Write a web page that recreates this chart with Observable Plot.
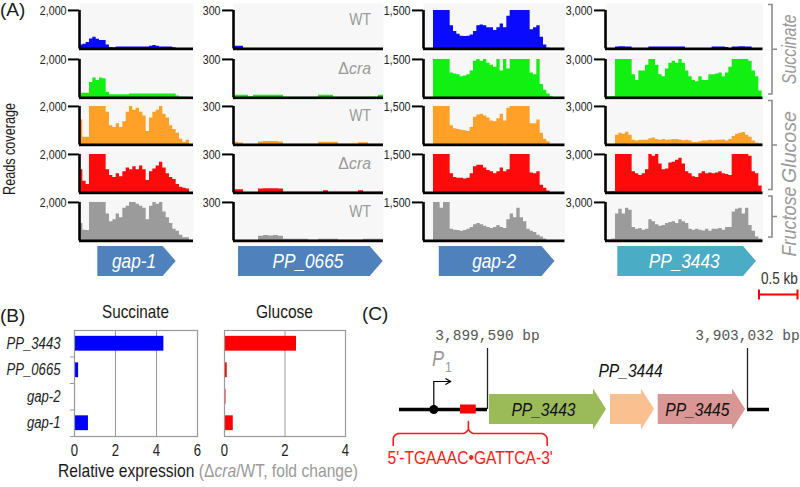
<!DOCTYPE html>
<html><head><meta charset="utf-8">
<script src="https://cdn.jsdelivr.net/npm/d3@7"></script>
<script src="https://cdn.jsdelivr.net/npm/@observablehq/plot@0.6"></script>
<style>
html,body{margin:0;padding:0;background:#fff;}
#root{position:relative;width:800px;height:487px;overflow:hidden;background:#fff;}
</style></head><body><div id="root"></div>
<script>
// ================= DATA =================
// Panel A: RNA-seq read coverage (reads), one value per bin
const genesA = ["gap-1", "PP_0665", "gap-2", "PP_3443"];
const yMaxA = [2000, 300, 1500, 3000];
const strainA = ["WT", "Δcra", "WT", "Δcra", "WT"];
const carbonA = ["Succinate", "Glucose", "Fructose"];
const carbonRowsA = [[0, 1], [2, 3], [4, 4]];

const gap1_SucWT  = [200,240,340,520,600,500,440,440,200,80,60,100,100,100,100,100,100,100,100,100,100,140,180,140,100,100,100,100,60,0,0,0,0];
const gap1_SucCra = [240,240,240,800,1040,900,1040,1000,300,160,160,160,160,160,160,200,200,200,200,200,200,200,200,200,200,200,200,200,200,100,40,40,40];
const gap1_GluWT  = [1300,400,400,2000,2000,2000,2000,2000,1700,1000,900,1100,900,1200,1700,2000,1800,1900,1700,1500,700,1400,1700,1800,2000,1600,1400,1000,800,600,300,140,240];
const gap1_GluCra = [1200,600,440,2000,2000,2000,2000,2000,1200,900,800,1000,840,1100,1300,1200,1360,1200,1400,1200,640,1100,1240,1400,1600,1300,1000,800,700,440,300,240,200];
const gap1_FruWT  = [900,560,540,2000,2000,2000,2000,2000,1400,1000,1100,1400,1200,1700,1800,2000,2000,1900,1800,1700,1100,1800,2000,1900,2000,1500,1200,900,600,500,300,160,160];

const pp0665_SucWT  = [20,20,0,0,0,0,0,0,0,0, 0,0,0,0,0,0,0,0,0,0, 0,0,0,0,0,0,0,0,0,0];
const pp0665_SucCra = [20,20,20,10,20,20,20,20,20,20, 5,5,5,5,5,5,5,20,20,20, 5,5,5,5,5,5,5,5,5,20];
const pp0665_GluWT  = [20,15,0,0,0,22,26,26,26,22, 5,5,5,5,5,5,5,20,20,20, 20,5,5,5,5,16,16,5,5,5];
const pp0665_GluCra = [24,24,0,0,0,30,32,32,32,30, 5,5,5,5,5,5,5,5,16,5, 5,5,5,5,5,16,5,5,5,5];
const pp0665_FruWT  = [0,0,0,0,0,36,42,38,42,36, 14,14,14,14,14,6,6,14,14,14, 14,6,6,6,6,6,14,14,14,14];

const gap2_SucWT  = [0,0,0,1500,1500,1500,1500,1500,900,675, 570,495,480,495,540,675,900,930,900,825, 825,720,825,975,825,1275,1500,1500,1500,1500, 1500,1500,750,825,900,450,150,30,0,0, 0,0];
const gap2_SucCra = [0,0,0,1500,1500,1500,1500,1500,975,930, 900,825,855,900,1050,1425,1500,1425,1500,1350, 1275,1200,1500,1050,1500,1125,1500,1500,1500,1500, 1500,1500,975,900,1500,525,300,150,45,0, 0,0];
const gap2_GluWT  = [0,0,0,1500,1500,1500,1500,1500,750,630, 600,570,555,525,675,1080,1170,1200,1125,1050, 930,900,1020,1200,930,1425,1500,1500,1500,1500, 1500,1500,825,825,975,450,225,120,0,0, 0,0];
const gap2_GluCra = [0,0,0,1500,1500,1500,1500,1500,750,600, 570,570,540,570,750,1020,1080,1080,975,870, 825,750,825,975,825,900,1500,1500,1500,1500, 1500,1500,780,750,825,300,180,75,0,0, 0,0];
const gap2_FruWT  = [0,0,0,1500,1500,1275,1500,1500,450,420, 405,375,405,450,525,630,675,630,570,525, 480,525,600,525,480,825,1050,900,1275,900, 750,450,375,330,225,150,75,0,0,0, 0,0];

const pp3443_SucWT  = [0,0,0,150,160,160,150,150,0,0, 0,0,0,150,150,150,150,150,150,150, 150,150,150,150,0,0,0,0,0,0, 0,0,150,150,150,150,120,0,150,150, 160,160,150,150,0,0,0];
const pp3443_SucCra = [90,90,120,3000,3000,3000,3000,3000,1800,1350, 2100,2100,2550,3000,3000,2550,1800,1650,2250,2700, 2850,2700,3000,2700,2100,1650,1350,1260,1650,1350, 1350,1800,1800,1860,1950,1650,1950,2400,3000,3000, 3000,3000,3000,2850,2100,1650,540];
const pp3443_GluWT  = [0,0,0,750,900,840,990,750,360,300, 360,360,360,480,540,420,360,420,360,390, 420,420,390,330,360,300,180,180,240,300, 300,360,330,360,360,390,300,420,660,840, 900,960,750,600,300,150,90];
const pp3443_GluCra = [90,90,120,3000,3000,3000,3000,3000,1650,1500, 1350,1500,1800,3000,2850,3000,2250,1800,1860,2340, 2400,2550,2700,2250,1650,1500,1260,1200,1500,1650, 1500,1560,1500,1560,1650,1500,1440,1350,3000,3000, 3000,3000,3000,2850,1650,1500,540];
const pp3443_FruWT  = [90,90,150,2100,2460,2100,2550,2400,1050,900, 960,840,900,1650,1500,1260,1140,1200,1350,1440, 1500,1350,1650,1500,1350,900,840,900,840,780, 900,750,900,900,960,840,1050,1050,2250,2460, 2550,2100,2550,1200,750,300,150];

// gene arrows of panel A (in bins of each column)
const arrowStartA = [5.5, 1.0, 4.74, 3.69];
const arrowEndA   = [29.0, 29.94, 39.45, 45.3];

// Panel B: relative expression (Δcra/WT, fold change)
const genesB = ["PP_3443", "PP_0665", "gap-2", "gap-1"];
const succinateB = [4.36, 0.2, 0.05, 0.68];
const glucoseB   = [2.38, 0.09, 0.05, 0.29];
const ticksSucB = [0, 2, 4, 6];
const ticksGluB = [0, 2, 4];

// Panel C: genomic region (bp)
const boundaryC = [3899590, 3903032];
const lineC = [3898425, 3903323];
const genesC = ["PP_3443", "PP_3444", "PP_3445"];
const genesCStart = [3899616, 3901218, 3901850];
const genesCEnd   = [3901165, 3901801, 3903006];
const promoterC = 3898879;
const siteC = [3899233, 3899441];
const braceC = [3898342, 3900380];
const siteSeqC = "5'-TGAAAC•GATTCA-3'";

// ================= STYLE / LAYOUT =================
const root = document.getElementById("root");
function hasFont(name) {
  const c = document.createElement("canvas").getContext("2d");
  const s = "Reads coverage WT 0123 PP_3443";
  c.font = "40px monospace"; const a = c.measureText(s).width;
  c.font = `40px '${name}', monospace`; const b = c.measureText(s).width;
  return Math.abs(a - b) > 1;
}
const NARROW = hasFont("Liberation Sans Narrow");
const FN = NARROW ? "'Liberation Sans Narrow', 'Liberation Sans', Arial, sans-serif" : "'Liberation Sans', Arial, sans-serif";
const FR = "'Liberation Sans', Arial, sans-serif";
const CONDENSE = NARROW ? 1 : 0.82;   // emulate a narrow face when none is installed

const rowColors = ["#0a0aff", "#12f012", "#ffa128", "#ff0a0a", "#9b9b9b"];
const arrowColors = ["#4f81bd", "#4f81bd", "#4f81bd", "#4bacc6"];
const axisX = [79, 233, 422.5, 605];
const colW = [114, 150, 141.5, 157.5];
const binPx = [10 / 3, 5, 10 / 3, 10 / 3];
const baseY = [48.5, 97, 144.5, 192.5, 240];
const trackH = 38.5, headroom = 1.18, ML = 50;

function place(node, left, top) {
  node.style.position = "absolute";
  node.style.left = left + "px";
  node.style.top = top + "px";
  root.appendChild(node);
}

const covA = [
  [gap1_SucWT, gap1_SucCra, gap1_GluWT, gap1_GluCra, gap1_FruWT],
  [pp0665_SucWT, pp0665_SucCra, pp0665_GluWT, pp0665_GluCra, pp0665_FruWT],
  [gap2_SucWT, gap2_SucCra, gap2_GluWT, gap2_GluCra, gap2_FruWT],
  [pp3443_SucWT, pp3443_SucCra, pp3443_GluWT, pp3443_GluCra, pp3443_FruWT]
];

// ---- Panel A tracks ----
covA.forEach((col, c) => col.forEach((vals, r) => {
  const max = yMaxA[c];
  const pts = vals.map((v, i) => ({x: i, y: Math.min(v, max)}));
  pts.push({x: vals.length, y: pts[pts.length - 1].y});
  const innerH = trackH * headroom;
  const p = Plot.plot({
    width: ML + colW[c] + 1, height: innerH + 3,
    marginLeft: ML, marginRight: 1, marginTop: 0, marginBottom: 3,
    style: {background: "transparent", fontFamily: FN, fontSize: "13px", color: "#222", overflow: "visible"},
    x: {domain: [0, colW[c] / binPx[c]], axis: null},
    y: {domain: [0, max * headroom], axis: null},
    marks: [
      Plot.frame({fill: "#f7f7f7", stroke: "none"}),
      Plot.areaY(pts, {x: "x", y: "y", curve: "step-after", fill: rowColors[r]}),
      Plot.ruleY([0], {stroke: "#000", strokeWidth: 2.6}),
      Plot.ruleX([0], {y1: 0, y2: max, stroke: "#000", strokeWidth: 2.6}),
      Plot.axisY({ticks: [max], label: null, tickSize: 11, tickPadding: 2, tickFormat: d3.format(","), stroke: "#000", strokeWidth: 2, fill: "#222"})
    ]
  });
  place(p, axisX[c] - ML, baseY[r] - innerH);
}));

// ---- Panel A gene arrows ----
genesA.forEach((g, c) => {
  const s = arrowStartA[c], e = arrowEndA[c], h = e - 13 / binPx[c];
  const pts = [{x: s, y1: -1, y2: 1}, {x: h, y1: -1, y2: 1}, {x: e, y1: 0, y2: 0}];
  const p = Plot.plot({
    width: colW[c], height: 30, margin: 0,
    style: {background: "transparent", overflow: "visible", fontFamily: FN},
    x: {domain: [0, colW[c] / binPx[c]], axis: null},
    y: {domain: [-1, 1], axis: null},
    marks: [
      Plot.areaY(pts, {x: "x", y1: "y1", y2: "y2", fill: arrowColors[c]}),
      Plot.text([g], {x: (s + e) / 2 - 3 / binPx[c], y: 0, text: d => d, fill: "#fff", fontStyle: "italic", fontSize: 21})
    ]
  });
  place(p, axisX[c], 246);
});

// ---- Panel B bar charts ----
function barPlot(vals, ticks, color, frameLeft, frameW, labels) {
  const ml = labels ? 74 : 10, mr = 10;
  const data = genesB.map((g, i) => ({g, i, v: vals[i]}));
  const xmax = ticks[ticks.length - 1];
  const marks = [
    Plot.gridX({ticks: ticks.filter(t => t > 0 && t < xmax), stroke: "#999", strokeOpacity: 1, strokeWidth: 1}),
    Plot.rectX(data, {x1: 0, x2: "v", y1: d => d.i + 0.22, y2: d => d.i + 0.78, fill: color}),
    Plot.frame({stroke: "#999", strokeWidth: 1.2}),
    Plot.axisX({ticks, label: null, tickSize: 0, tickPadding: 8, tickFormat: d => String(d), fill: "#222"})
  ];
  if (labels) {
    marks.push(Plot.axisY({ticks: [1, 2, 3, 4], label: null, tickSize: 4, tickFormat: () => "", stroke: "#999"}));
    marks.push(Plot.text(data, {x: 0, y: d => d.i + 0.5, text: "g", dx: -14, textAnchor: "end", fontStyle: "italic", fontSize: 16, fill: "#222"}));
  }
  const p = Plot.plot({
    width: ml + frameW + mr, height: 106 + 30,
    marginLeft: ml, marginRight: mr, marginTop: 0, marginBottom: 30,
    style: {background: "transparent", fontFamily: FN, fontSize: "16px", color: "#222", overflow: "visible"},
    x: {domain: [0, xmax], axis: null},
    y: {domain: [genesB.length, 0], axis: null},
    marks
  });
  place(p, frameLeft - ml, 330);
}
barPlot(succinateB, ticksSucB, "#0000ff", 74, 123, true);
barPlot(glucoseB, ticksGluB, "#ff0000", 224, 121, false);

// ---- Panel C gene map ----
(function () {
  const cLeft = 380, cTop = 320, cW = 420, cH = 160, lineY = 409, U = 15;
  const pxPerBp = (747 - 487) / (boundaryC[1] - boundaryC[0]);
  const bpPx = 1 / pxPerBp;
  const xDom = [boundaryC[0] - (487 - cLeft) * bpPx, boundaryC[0] + (cLeft + cW - 487) * bpPx];
  const yDom = [-(cTop + cH - lineY) / U, (lineY - cTop) / U];
  const headBp = 13 * bpPx;
  const geneColors = ["#9bbb59", "#fac090", "#d99694"];
  const genes = genesC.map((g, i) => ({g, s: genesCStart[i], e: genesCEnd[i], color: geneColors[i]}));
  const genePts = genes.flatMap(d => [
    {g: d.g, x: d.s, y1: -1, y2: 1},
    {g: d.g, x: d.e - headBp, y1: -1, y2: 1},
    {g: d.g, x: d.e - headBp, y1: -1.37, y2: 1.37},
    {g: d.g, x: d.e, y1: 0, y2: 0}
  ]);
  // brace
  const [bL, bR] = braceC, bC = (siteC[0] + siteC[1]) / 2;
  const rx = 6 * bpPx, ry = 0.4, yT = -2.4, yH = -1.6, yC = -0.8;
  const arc = (cx, cy, a0, a1) => d3.range(0, 1.0001, 0.125).map(t => {
    const a = (a0 + (a1 - a0) * t) * Math.PI / 180;
    return {x: cx + rx * Math.cos(a), y: cy + ry * Math.sin(a)};
  });
  const brace = [{x: bL, y: yT}, ...arc(bL + rx, yH - ry, 180, 90), ...arc(bC - rx, yH + ry, -90, 0), {x: bC, y: yC},
    ...arc(bC + rx, yH + ry, 180, 270), ...arc(bR - rx, yH - ry, 90, 0), {x: bR, y: yT}];
  const p = Plot.plot({
    width: cW, height: cH, margin: 0,
    style: {background: "transparent", fontFamily: FN, overflow: "visible"},
    x: {domain: xDom, axis: null},
    y: {domain: yDom, axis: null},
    marks: [
      Plot.ruleY([{x1: lineC[0], x2: boundaryC[0]}, {x1: boundaryC[1], x2: lineC[1]}], {y: 0, x1: "x1", x2: "x2", stroke: "#000", strokeWidth: 3.5}),
      Plot.ruleX(boundaryC, {x: d => d, y1: 0, y2: (lineY - 348) / U, stroke: "#222", strokeWidth: 1.3}),
      Plot.text(boundaryC, {x: d => d, y: (lineY - 334.4) / U, text: d => d3.format(",")(d) + " bp", fontFamily: "'Liberation Mono', 'Courier New', monospace", fontSize: 14.5, fill: "#555"}),
      Plot.rect([siteC], {x1: d => d[0], x2: d => d[1], y1: -0.3, y2: 0.3, fill: "#ff0000"}),
      Plot.ruleX([promoterC], {x: d => d, y1: 0, y2: (lineY - 381) / U, stroke: "#000", strokeWidth: 1.2}),
      Plot.arrow([promoterC], {x1: d => d, y1: (lineY - 381) / U, x2: d => d + 17 * bpPx, y2: (lineY - 381) / U, headLength: 12, headAngle: 60, stroke: "#000", strokeWidth: 1.2}),
      Plot.dot([promoterC], {x: d => d, y: 0, r: 4.5, fill: "#000", stroke: "none"}),
      Plot.text([promoterC], {x: d => d, y: (lineY - 358) / U, dx: 4.2, text: () => "P", fontStyle: "italic", fontSize: 22, fill: "#999"}),
      Plot.text([promoterC], {x: d => d, y: (lineY - 366.5) / U, dx: 14.5, text: () => "1", fontSize: 15, fill: "#999"}),
      Plot.areaY(genePts, {x: "x", y1: "y1", y2: "y2", z: "g", fill: d => genes.find(q => q.g === d.g).color}),
      Plot.text(genes.filter(d => d.g !== "PP_3444"), {x: d => (d.s + d.e - headBp) / 2 + 2 * bpPx, y: 0, text: "g", fontStyle: "italic", fontSize: 19, fill: "#111"}),
      Plot.text(genes.filter(d => d.g === "PP_3444"), {x: d => (d.s + d.e) / 2 - 2 * bpPx, y: (lineY - 370.5) / U, text: "g", fontStyle: "italic", fontSize: 19, fill: "#111"}),
      Plot.line(brace, {x: "x", y: "y", stroke: "#ff1a1a", strokeWidth: 1.6, curve: "linear"}),
      Plot.text([siteSeqC], {x: (bL + bR) / 2, y: (lineY - 457) / U, text: d => d, fontSize: 19, fill: "#ff1a1a"})
    ]
  });
  place(p, cLeft, cTop);
})();

// ---- emulate the narrow face of the original figure on the Plot texts ----
if (CONDENSE !== 1) {
  root.querySelectorAll("svg text").forEach(t => {
    const ff = getComputedStyle(t).fontFamily || "";
    if (/Mono|Courier|monospace/i.test(ff)) return;
    if (t.querySelector("tspan")) return;
    const w = t.getComputedTextLength();
    if (!(w > 0)) return;
    t.setAttribute("textLength", (w * CONDENSE).toFixed(2));
    t.setAttribute("lengthAdjust", "spacingAndGlyphs");
  });
}

// ---- annotation overlay (labels, brackets, scale bar) ----
const svg = d3.select(root).append("svg")
  .attr("width", 800).attr("height", 487)
  .style("position", "absolute").style("left", "0px").style("top", "0px").style("overflow", "visible");
// o.width: the length the text occupies in the reference figure (fits the narrow face)
function txt(x, y, s, o = {}, build) {
  const t = svg.append("text").attr("x", 0).attr("y", 0)
    .attr("font-family", o.family || FN).attr("font-size", o.size || 16)
    .attr("fill", o.fill || "#1a1a1a").attr("text-anchor", o.anchor || "start");
  if (o.italic) t.attr("font-style", "italic");
  if (s !== null) t.text(s);
  if (build) build(t);
  let sx = 1;
  if (o.width) {
    const bw = t.node().getBBox().width;
    if (bw > 0) sx = o.width / bw;
  } else if (!o.keep) sx = CONDENSE;
  let tf = `translate(${x},${y})`;
  if (o.rotate) tf += ` rotate(${o.rotate})`;
  if (sx !== 1) tf += ` scale(${sx.toFixed(4)},1)`;
  t.attr("transform", tf);
  return t;
}
const craLabel = (s) => (t) => {
  if (s.startsWith("Δ")) {
    t.append("tspan").text("Δ");
    t.append("tspan").attr("font-style", "italic").text(s.slice(1));
  } else t.text(s);
};
// panel labels
txt(0, 16, "(A)", {family: FR, size: 19, keep: true});
txt(0, 322, "(B)", {family: FR, size: 19, keep: true});
txt(362, 319.5, "(C)", {family: FR, size: 19, keep: true});
txt(15, 149, "Reads coverage", {size: 16.5, anchor: "middle", rotate: -90, width: 92});
// strain labels
strainA.forEach((s, r) => {
  txt(371, baseY[r] - 23.5, null, {size: 17, fill: "#9a9a9a", anchor: "end", width: s === "WT" ? 21.7 : 32.7}, craLabel(s));
});
// carbon source brackets
const carbonWidth = [70, 72, 70];
carbonA.forEach((name, i) => {
  const [r0, r1] = carbonRowsA[i];
  const top = baseY[r0] - trackH - 5.5, bot = baseY[r1] - 3, mid = (top + bot) / 2;
  svg.append("path")
    .attr("d", `M768,${top}H772V${bot}H768M772,${mid}H777`)
    .attr("fill", "none").attr("stroke", "#8c8c8c").attr("stroke-width", 1.6);
  txt(796, mid + (i === 1 ? 2 : i === 2 ? 5 : 0), name, {size: 20, fill: "#9a9a9a", italic: true, anchor: "middle", rotate: -90, width: carbonWidth[i]});
});
// scale bar (0.5 kb)
txt(761, 284, "0.5 kb", {size: 16, fill: "#333", width: 37});
svg.append("path").attr("d", "M759,294.5H797.5M759,289.5V299.5M797.5,289.5V299.5")
  .attr("fill", "none").attr("stroke", "#ff0000").attr("stroke-width", 2);
// panel B titles and x label
txt(135.5, 318, "Succinate", {size: 18, anchor: "middle", width: 67});
txt(284.5, 318, "Glucose", {size: 18, anchor: "middle", width: 57});
txt(58, 477, null, {size: 18, width: 300}, t => {
  t.append("tspan").text("Relative expression ");
  t.append("tspan").attr("fill", "#9a9a9a").text("(Δ");
  t.append("tspan").attr("fill", "#9a9a9a").attr("font-style", "italic").text("cra");
  t.append("tspan").attr("fill", "#9a9a9a").text("/WT, fold change)");
});
</script>
</body></html>
